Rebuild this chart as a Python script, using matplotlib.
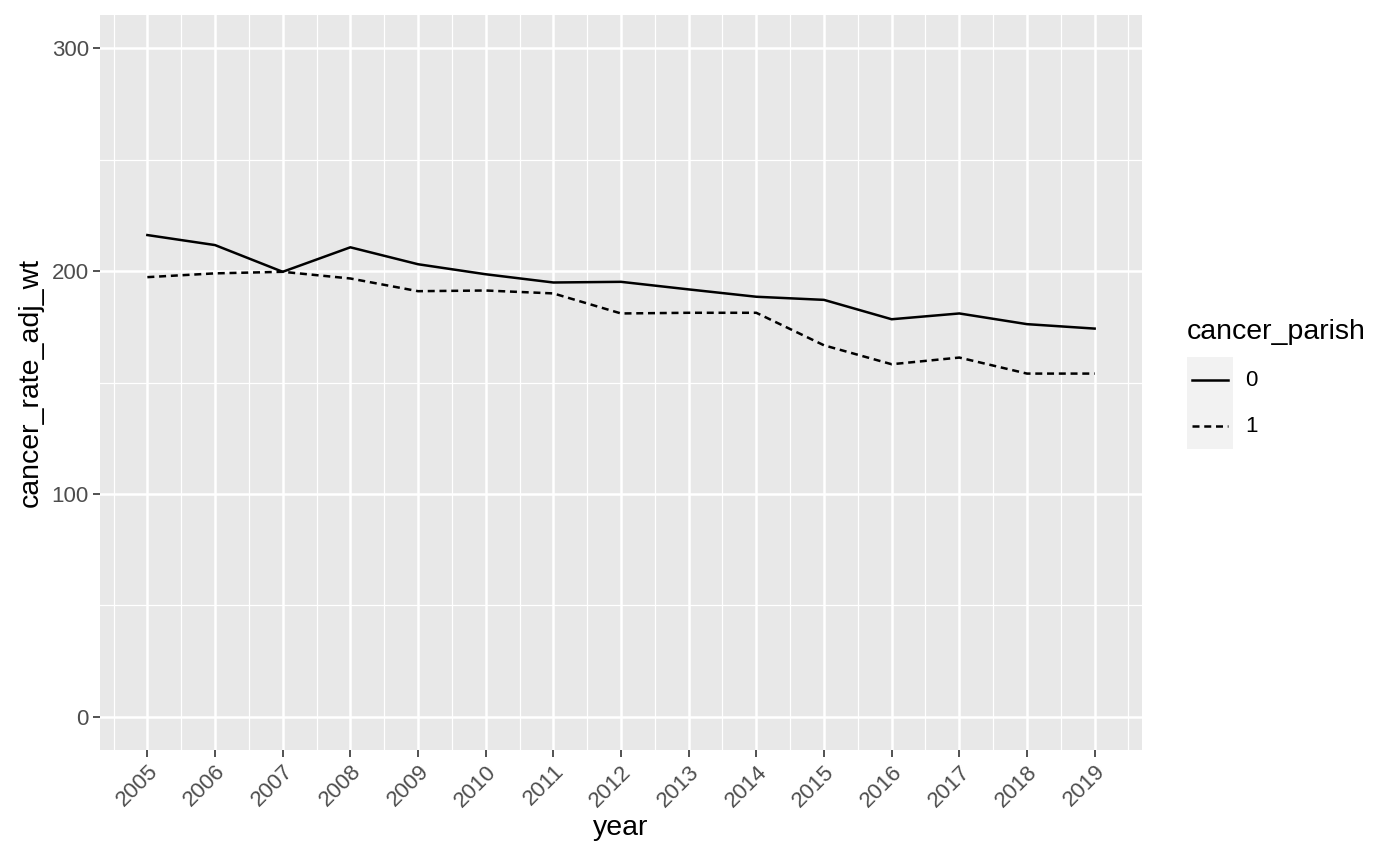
import matplotlib
matplotlib.use("Agg")
import matplotlib.pyplot as plt
from matplotlib.patches import Rectangle
from matplotlib.lines import Line2D

years = list(range(2005, 2020))
rate_parish0 = [216.2, 211.7, 199.7, 210.7, 203.1, 198.6, 194.9, 195.2,
                191.8, 188.5, 187.1, 178.4, 181.0, 176.2, 174.2]
rate_parish1 = [197.3, 199.0, 199.7, 196.7, 191.0, 191.3, 190.0, 181.0,
                181.3, 181.3, 166.7, 158.2, 161.2, 154.0, 154.0]
legend_labels = ["0", "1"]
y_ticks = [0, 100, 200, 300]

plt.rcParams['font.family'] = ['Liberation Sans', 'DejaVu Sans']

fig = plt.figure(figsize=(14, 8.65), dpi=100)
W, H = 1400, 865
left, right, top, bottom = 100, 1142, 15, 750
ax = fig.add_axes([left / W, 1 - bottom / H, (right - left) / W, (bottom - top) / H])
ax.set_facecolor('#E8E8E8')
for s in ax.spines.values():
    s.set_visible(False)

ax.set_xlim(2004.3, 2019.7)
ax.set_ylim(-15, 315)

dash = (0, (2.8, 1.9))

# grid
for y in [50, 150, 250]:
    ax.axhline(y, color='white', lw=0.9, zorder=1)
for y in y_ticks:
    ax.axhline(y, color='white', lw=1.8, zorder=1)
for x in years[:-1]:
    ax.axvline(x + 0.5, color='white', lw=0.9, zorder=1)
ax.axvline(2004.5, color='white', lw=0.9, zorder=1)
ax.axvline(2019.5, color='white', lw=0.9, zorder=1)
for x in years:
    ax.axvline(x, color='white', lw=1.8, zorder=1)

ax.plot(years, rate_parish0, color='black', lw=1.8, ls='-', zorder=3)
ax.plot(years, rate_parish1, color='black', lw=1.8, ls=dash, zorder=3)

ax.set_xticks(years)
ax.set_xticklabels([str(y) for y in years], rotation=45, ha='right',
                   rotation_mode='anchor', fontsize=16, color='#4D4D4D')
ax.set_yticks(y_ticks)
ax.set_yticklabels([str(v) for v in y_ticks], fontsize=16, color='#4D4D4D')
ax.tick_params(axis='both', length=5, width=1.2, color='#333333', pad=3)
ax.set_xlabel('year', fontsize=20.5, color='black', labelpad=3)
ax.set_ylabel('cancer_rate_adj_wt', fontsize=20.5, color='black', labelpad=6)

# legend
fig.text(1187 / W, 1 - 332 / H, 'cancer_parish', fontsize=20.5, va='center', ha='left')
styles = ['-', dash]
for i, (lab, st) in enumerate(zip(legend_labels, styles)):
    y0 = 357 + i * 46
    fig.patches.append(Rectangle((1187 / W, 1 - (y0 + 46) / H), 46 / W, 46 / H,
                                 transform=fig.transFigure, facecolor='#F2F2F2',
                                 edgecolor='none'))
    yc = 1 - (y0 + 23) / H
    fig.lines.append(Line2D([1192 / W, 1228 / W], [yc, yc], transform=fig.transFigure,
                            color='black', lw=1.8, ls=st))
    fig.text(1245 / W, yc, lab, fontsize=16, va='center', ha='left')

fig.savefig('out.png', dpi=100)
